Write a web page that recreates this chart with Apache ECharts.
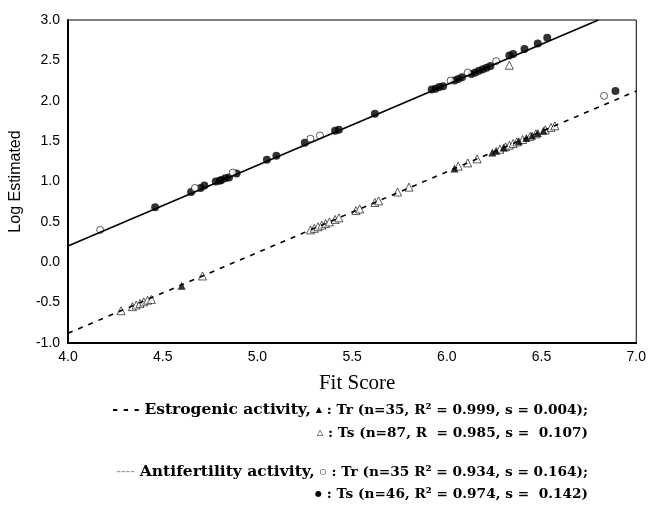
<!DOCTYPE html>
<html>
<head>
<meta charset="utf-8">
<script src="https://cdn.jsdelivr.net/npm/echarts@6/dist/echarts.min.js"></script>
<style>html,body{margin:0;padding:0;background:#fff}#c{width:649px;height:505px}</style>
</head>
<body>
<div id="c"></div>
<script>
// Axis ticks
const xTicks = [4.0, 4.5, 5.0, 5.5, 6.0, 6.5, 7.0];
const yTicks = [-1.0, -0.5, 0.0, 0.5, 1.0, 1.5, 2.0, 2.5, 3.0];

// Fitted lines (end points)
const antiLineX = [4.0, 6.8];
const antiLineY = [0.2, 3.0];
const estroLineX = [4.0, 7.0];
const estroLineY = [-0.88, 2.12];

// Antifertility activity, training set (open circles)
const antiTrX = [4.17, 4.67, 4.87, 5.28, 5.33, 6.02, 6.11, 6.26, 6.83];
const antiTrY = [0.40, 0.92, 1.11, 1.53, 1.57, 2.25, 2.35, 2.49, 2.06];

// Antifertility activity, test set (filled circles)
const antiTsX = [4.46, 4.65, 4.70, 4.72, 4.78, 4.80, 4.81, 4.83, 4.85, 4.89, 5.05, 5.10, 5.25, 5.41, 5.43,
  5.62, 5.92, 5.94, 5.96, 5.98, 6.04, 6.06, 6.08, 6.13, 6.15, 6.17, 6.19, 6.21, 6.23, 6.33, 6.35, 6.41, 6.48, 6.53, 6.89];
const antiTsY = [0.68, 0.87, 0.92, 0.95, 1.00, 1.01, 1.02, 1.04, 1.05, 1.10, 1.27, 1.32, 1.48, 1.63, 1.64,
  1.84, 2.14, 2.15, 2.17, 2.18, 2.25, 2.27, 2.29, 2.33, 2.35, 2.37, 2.39, 2.41, 2.43, 2.56, 2.58, 2.64, 2.71, 2.78, 2.12];

// Estrogenic activity, training set (filled triangles)
const estroTrX = [4.60, 6.04, 6.24, 6.26, 6.30, 6.38, 6.42, 6.45, 6.48, 6.51];
const estroTrY = [-0.29, 1.16, 1.36, 1.38, 1.42, 1.50, 1.54, 1.57, 1.60, 1.63];

// Estrogenic activity, test set (open triangles)
const estroTsX = [4.28, 4.34, 4.36, 4.38, 4.40, 4.42, 4.44, 4.71, 5.28, 5.30, 5.32, 5.34, 5.36, 5.38, 5.41, 5.43,
  5.52, 5.54, 5.62, 5.64, 5.74, 5.80, 6.06, 6.11, 6.16, 6.28, 6.31, 6.33, 6.35, 6.37, 6.40, 6.44, 6.47, 6.52, 6.55, 6.57, 6.33];
const estroTsY = [-0.60, -0.55, -0.53, -0.51, -0.49, -0.47, -0.46, -0.17, 0.40, 0.42, 0.44, 0.46, 0.48, 0.50, 0.53, 0.55,
  0.64, 0.66, 0.74, 0.76, 0.87, 0.93, 1.19, 1.23, 1.28, 1.40, 1.43, 1.45, 1.47, 1.49, 1.52, 1.56, 1.59, 1.64, 1.67, 1.69, 2.44];

// Axis titles and legend text
const xTitle = 'Fit Score';
const yTitle = 'Log Estimated';
const legendLines = [
  {dash: '- - -', name: 'Estrogenic activity,', sym: '▲', stat: ': Tr (n=35, R² = 0.999, s = 0.004);'},
  {dash: '', name: '', sym: '△', stat: ': Ts (n=87, R  = 0.985, s =  0.107)'},
  {dash: '----', name: 'Antifertility activity,', sym: '○', stat: ': Tr (n=35 R² = 0.934, s = 0.164);'},
  {dash: '', name: '', sym: '●', stat: ': Ts (n=46, R² = 0.974, s =  0.142)'}
];

const zip = (xs, ys) => xs.map((x, i) => [x, ys[i]]);

const chart = echarts.init(document.getElementById('c'), null, {renderer: 'canvas'});

const serif = '"Liberation Serif", "DejaVu Serif", serif';
const wideSerif = '"DejaVu Serif", serif';
const sans = '"Liberation Sans", Arial, sans-serif';

const legendY = [410, 433, 472, 494];
const graphics = legendLines.map((l, i) => {
  let parts = [];
  if (l.dash) parts.push('{' + (i === 2 ? 'g' : 'd') + '|' + l.dash + '} ');
  if (l.name) parts.push('{n|' + l.name + '} ');
  parts.push('{s|' + l.sym + '} ');
  parts.push('{b|' + l.stat + '}');
  return {
    type: 'text',
    x: 588, y: legendY[i],
    style: {
      text: parts.join(''),
      textAlign: 'right', textVerticalAlign: 'middle',
      font: 'bold 14px ' + wideSerif,
      fill: '#000',
      rich: {
        n: {fontFamily: wideSerif, fontWeight: 'bold', fontSize: 15.5, fill: '#000'},
        b: {fontFamily: wideSerif, fontWeight: 'bold', fontSize: 13.7, fill: '#000'},
        d: {fontFamily: wideSerif, fontWeight: 'bold', fontSize: 14, fill: '#000'},
        g: {fontFamily: sans, fontWeight: 'normal', fontSize: 14, fill: '#999'},
        s: {fontFamily: '"DejaVu Sans", sans-serif', fontSize: 8, fill: '#000'}
      }
    }
  };
});

chart.setOption({
  animation: false,
  backgroundColor: '#fff',
  grid: {left: 68, right: 10, top: 20, bottom: 162, show: true, borderColor: '#000', borderWidth: 1, containLabel: false},
  xAxis: {
    type: 'value', min: xTicks[0], max: xTicks[xTicks.length - 1], interval: 0.5,
    name: xTitle, nameLocation: 'middle', nameGap: 30,
    nameTextStyle: {fontFamily: serif, fontSize: 21, color: '#000', padding: [0, 0, 0, 10]},
    axisLine: {show: true, onZero: false, lineStyle: {color: '#000', width: 2}},
    axisTick: {show: false},
    splitLine: {show: false},
    axisLabel: {color: '#000', fontFamily: sans, fontSize: 14, margin: 7, formatter: v => v.toFixed(1)}
  },
  yAxis: {
    type: 'value', min: yTicks[0], max: yTicks[yTicks.length - 1], interval: 0.5,
    name: yTitle, nameLocation: 'middle', nameGap: 44, nameRotate: 90,
    nameTextStyle: {fontFamily: sans, fontSize: 16, color: '#000'},
    axisLine: {show: true, onZero: false, lineStyle: {color: '#000', width: 2}},
    axisTick: {show: false},
    splitLine: {show: false},
    axisLabel: {color: '#000', fontFamily: sans, fontSize: 14, margin: 8, formatter: v => v.toFixed(1)}
  },
  graphic: graphics,
  series: [
    {type: 'line', data: zip(antiLineX, antiLineY), symbol: 'none', lineStyle: {color: '#000', width: 1.6}, silent: true},
    {type: 'line', data: zip(estroLineX, estroLineY), symbol: 'none', lineStyle: {color: '#000', width: 1.6, type: [5, 6]}, silent: true},
    {type: 'scatter', data: zip(antiTsX, antiTsY), symbol: 'circle', symbolSize: 8, itemStyle: {color: '#000'}},
    {type: 'scatter', data: zip(antiTrX, antiTrY), symbol: 'circle', symbolSize: 7, itemStyle: {color: '#fff', borderColor: '#000', borderWidth: 0.8}},
    {type: 'scatter', data: zip(estroTsX, estroTsY), symbol: 'triangle', symbolSize: 8, itemStyle: {color: '#fff', borderColor: '#000', borderWidth: 0.8}},
    {type: 'scatter', data: zip(estroTrX, estroTrY), symbol: 'triangle', symbolSize: 8, itemStyle: {color: '#000'}}
  ]
});
</script>
</body>
</html>
